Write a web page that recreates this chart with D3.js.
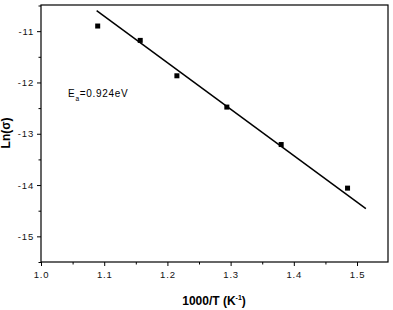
<!DOCTYPE html>
<html><head><meta charset="utf-8">
<script src="https://cdn.jsdelivr.net/npm/d3@7"></script>
<style>body{margin:0;background:#fff}svg{display:block}</style>
</head><body>
<script>
const xValues = [1.0897, 1.157, 1.215, 1.294, 1.380, 1.485];
const yValues = [-10.90, -11.18, -11.87, -12.48, -13.21, -14.06];
const fitX = [1.088, 1.514];
const fitY = [-10.60, -14.46];
const xTicks = [1.0, 1.1, 1.2, 1.3, 1.4, 1.5];
const yTicks = [-11, -12, -13, -14, -15];
const annotation = {main: "E", sub: "a", rest: "=0.924eV"};

const W = 393, H = 310;
const L = 41, R = 388, T = 5, B = 262;
const svg = d3.select("body").append("svg").attr("width", W).attr("height", H);
const x = d3.scaleLinear().domain([1.0, 1.549]).range([L, R]);
const y = d3.scaleLinear().domain([-15.5, -10.49]).range([B, T]);
const font = "Arial, 'Liberation Sans', sans-serif";

svg.append("rect").attr("x", L).attr("y", T).attr("width", R - L).attr("height", B - T)
  .attr("fill", "none").attr("stroke", "#000").attr("stroke-width", 1.2);

svg.append("g").attr("transform", `translate(0,${B})`)
  .call(d3.axisBottom(x).tickValues(xTicks).tickFormat(d3.format(".1f")).tickSize(4).tickPadding(5));
svg.append("g").attr("transform", `translate(0,${B})`)
  .call(d3.axisBottom(x).tickValues(d3.range(1.05, 1.55, 0.1)).tickFormat("").tickSize(2.5));
svg.append("g").attr("transform", `translate(${L},0)`)
  .call(d3.axisLeft(y).tickValues(yTicks).tickFormat(d => "-" + Math.abs(d)).tickSize(4).tickPadding(3));
svg.append("g").attr("transform", `translate(${L},0)`)
  .call(d3.axisLeft(y).tickValues(d3.range(-15.5, -10.4, 1)).tickFormat("").tickSize(2.5));
svg.selectAll(".domain").remove();
svg.selectAll(".tick line").attr("stroke", "#000").attr("stroke-width", 1);
svg.selectAll(".tick text").attr("font-family", font).attr("font-size", 9.5)
  .attr("letter-spacing", 0.8).attr("fill", "#111");

svg.append("line").attr("x1", x(fitX[0])).attr("y1", y(fitY[0]))
  .attr("x2", x(fitX[1])).attr("y2", y(fitY[1]))
  .attr("stroke", "#000").attr("stroke-width", 1.5);

svg.selectAll("rect.pt").data(xValues).enter().append("rect").attr("class", "pt")
  .attr("x", (d) => x(d) - 2.5).attr("y", (d, i) => y(yValues[i]) - 2.5)
  .attr("width", 5).attr("height", 5).attr("fill", "#000");

const ann = svg.append("text").attr("x", 68).attr("y", 97)
  .attr("font-family", font).attr("font-size", 10).attr("letter-spacing", 0.7).attr("fill", "#000");
ann.append("tspan").text(annotation.main);
ann.append("tspan").attr("font-size", 6.5).attr("dy", 3.5).text(annotation.sub);
ann.append("tspan").attr("dy", -3.5).text(annotation.rest);

svg.append("text").attr("x", 214).attr("y", 305).attr("text-anchor", "middle")
  .attr("font-family", font).attr("font-size", 12).attr("font-weight", "bold")
  .html('1000/T (K<tspan font-size="7" dy="-5">-1</tspan><tspan dy="5">)</tspan>');

svg.append("text").attr("transform", "translate(10,133) rotate(-90)").attr("text-anchor", "middle")
  .attr("font-family", font).attr("font-size", 12).attr("font-weight", "bold")
  .text("Ln(σ)");
</script>
</body></html>
